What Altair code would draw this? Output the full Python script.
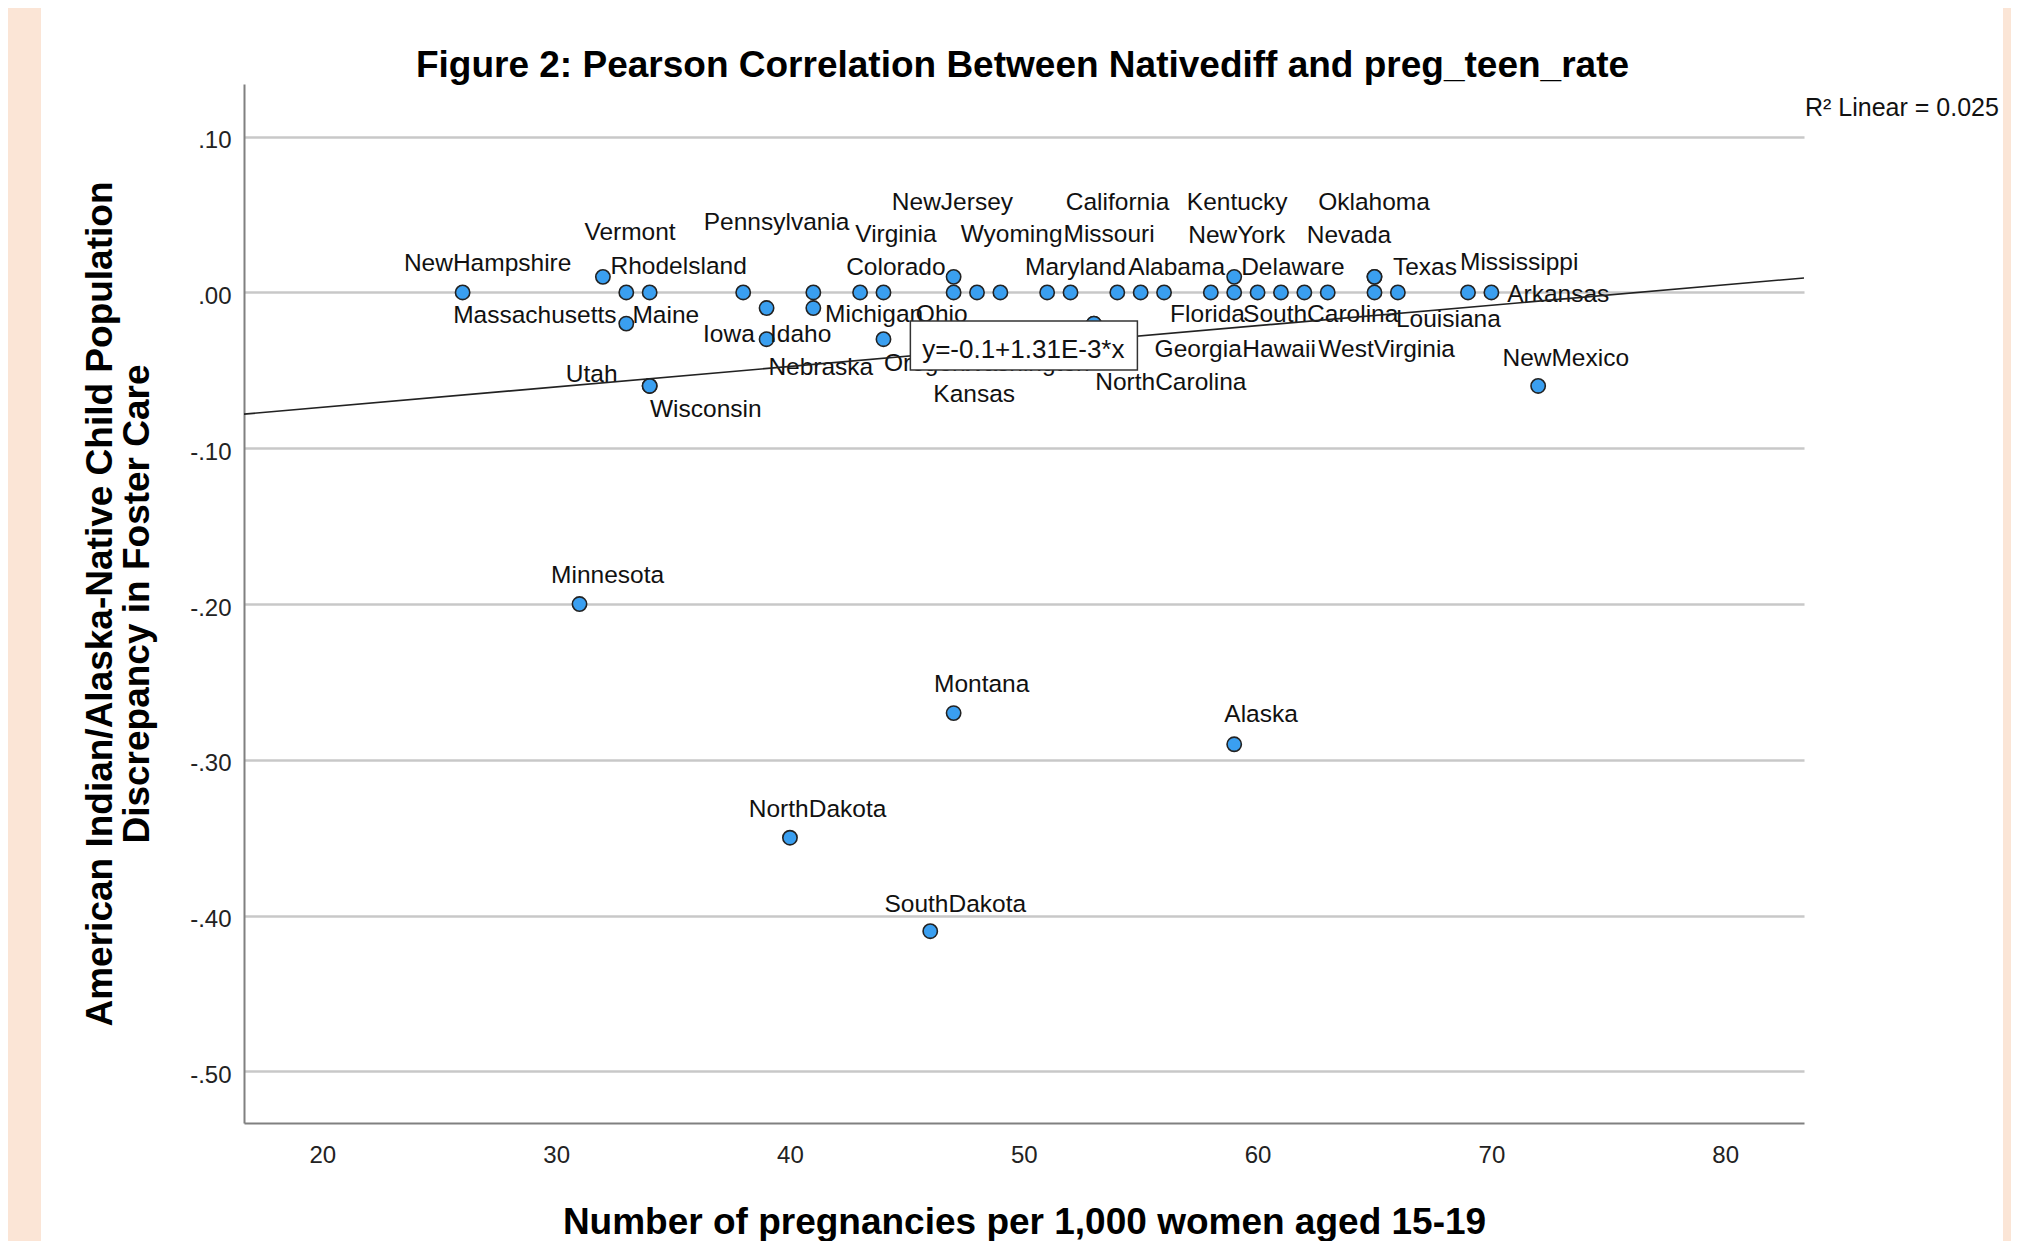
import altair as alt
import pandas as pd

# ---------------- data ----------------
states = ["NewHampshire", "Vermont", "Rhodelsland", "Massachusetts", "Maine", "Utah", "Wisconsin",
          "Pennsylvania", "Iowa", "Idaho", "Nebraska", "Virginia", "Colorado", "Michigan", "Oregon",
          "NewJersey", "Ohio", "Wyoming", "Kansas", "Maryland", "Missouri", "Washington", "NorthCarolina",
          "California", "Alabama", "Georgia", "Florida", "Kentucky", "NewYork", "Delaware",
          "SouthCarolina", "Hawaii", "WestVirginia", "Oklahoma", "Texas", "Nevada", "Louisiana",
          "Mississippi", "Arkansas", "NewMexico", "Minnesota", "Montana", "Alaska", "NorthDakota",
          "SouthDakota"]
preg_rate = [26, 32, 33, 33, 34, 34, 34,
             38, 39, 39, 41, 41, 43, 44, 44,
             47, 47, 48, 49, 51, 52, 53, 53,
             54, 55, 56, 58, 59, 59, 60,
             61, 62, 63, 65, 65, 65, 66,
             69, 70, 72, 31, 47, 59, 40,
             46]
native_diff = [0.00, 0.01, 0.00, -0.02, 0.00, -0.06, -0.06,
               0.00, -0.03, -0.01, -0.01, 0.00, 0.00, 0.00, -0.03,
               0.01, 0.00, 0.00, 0.00, 0.00, 0.00, -0.02, -0.02,
               0.00, 0.00, 0.00, 0.00, 0.01, 0.00, 0.00,
               0.00, 0.00, 0.00, 0.01, 0.01, 0.00, 0.00,
               0.00, 0.00, -0.06, -0.20, -0.27, -0.29, -0.35,
               -0.41]
# where each state's label sits (in data units)
label_x = [27.07, 33.16, 35.24, 29.09, 34.69, 31.52, 36.40,
           39.43, 37.39, 40.46, 41.32, 44.53, 44.53, 43.60, 45.77,
           46.95, 46.49, 49.48, 47.88, 52.21, 53.65, 50.07, 56.29,
           54.01, 56.54, 57.46, 57.86, 59.13, 59.11, 61.51,
           62.70, 60.92, 65.52, 64.98, 67.16, 63.91, 68.16,
           71.19, 72.86, 73.18, 32.20, 48.20, 60.15, 41.18,
           47.07]
label_y = [0.0182, 0.0383, 0.0163, -0.0154, -0.0154, -0.0528, -0.0753,
           0.0445, -0.0272, -0.0272, -0.0485, 0.0370, 0.0157, -0.0143, -0.0458,
           0.0574, -0.0143, 0.0370, -0.0661, 0.0157, 0.0370, -0.0458, -0.0582,
           0.0574, 0.0157, -0.0372, -0.0143, 0.0574, 0.0364, 0.0157,
           -0.0143, -0.0372, -0.0372, 0.0574, 0.0157, 0.0364, -0.0180,
           0.0189, -0.0019, -0.0426, -0.1823, -0.2520, -0.2712, -0.3325,
           -0.3930]

reg_x = [16.65, 83.37]
reg_y = [-0.0781, 0.0093]
equation = "y=-0.1+1.31E-3*x"
eq_box_x = [45.15, 54.86]
eq_box_y = [-0.0184, -0.0498]
eq_text_pos = [49.98, -0.0368]
r2_text = "R\u00b2 Linear = 0.025"
title_text = "Figure 2: Pearson Correlation Between Nativediff and preg_teen_rate"
x_title = "Number of pregnancies per 1,000 women aged 15-19"
y_title = ["American Indian/Alaska-Native Child Population", "Discrepancy in Foster Care"]

x_domain = [16.65, 83.37]
y_domain = [-0.5331, 0.1338]
x_ticks = [20, 30, 40, 50, 60, 70, 80]
y_ticks = [-0.5, -0.4, -0.3, -0.2, -0.1, 0.0, 0.1]

# ---------------- chart ----------------
W, H = 1560, 1039
FONT = "Liberation Sans"
PEACH = "#FBE5D6"

pts = pd.DataFrame({"state": states, "X": preg_rate, "Y": native_diff})
labs = pd.DataFrame({"state": states, "X": label_x, "Y": label_y})
reg = pd.DataFrame({"X": reg_x, "Y": reg_y})
box = pd.DataFrame({"X": [eq_box_x[0]], "X2": [eq_box_x[1]], "Y": [eq_box_y[0]], "Y2": [eq_box_y[1]]})
eqt = pd.DataFrame({"X": [eq_text_pos[0]], "Y": [eq_text_pos[1]], "t": [equation]})
one = pd.DataFrame({"k": [0]})

xs = alt.Scale(domain=x_domain, nice=False, zero=False)
ys = alt.Scale(domain=y_domain, nice=False, zero=False)

x_axis = alt.Axis(values=x_ticks, format="d", grid=False, ticks=False,
                  domainColor="#808080", domainWidth=2,
                  labelFont=FONT, labelFontSize=24, labelColor="#222222", labelPadding=20,
                  titleFont=FONT, titleFontSize=37, titleFontWeight="bold",
                  titleColor="#000000", titleX=W / 2, titleY=110, titleAlign="center",
                  titleBaseline="alphabetic")
y_axis = alt.Axis(values=y_ticks,
                  labelExpr="replace(replace(format(datum.value, '.2f'), '\u2212', '-'), '0.', '.')",
                  grid=True, gridColor="#C8C8C8", gridWidth=2.5, ticks=False,
                  domainColor="#808080", domainWidth=2,
                  labelFont=FONT, labelFontSize=24, labelColor="#222222", labelPadding=13,
                  labelOffset=4,
                  titleFont=FONT, titleFontSize=37, titleFontWeight="bold",
                  titleColor="#000000", titleLineHeight=37, titleX=-143.5, titleY=H / 2,
                  titleAngle=270, titleAlign="center", titleBaseline="middle")


def X(field="X"):
    return alt.X(f"{field}:Q", scale=xs, axis=x_axis, title=x_title)


def Y(field="Y"):
    return alt.Y(f"{field}:Q", scale=ys, axis=y_axis, title=y_title)


left_strip = alt.Chart(one).mark_rect(color=PEACH).encode(
    x=alt.value(-236), x2=alt.value(-203), y=alt.value(-80), y2=alt.value(1160))
right_strip = alt.Chart(one).mark_rect(color=PEACH).encode(
    x=alt.value(1759), x2=alt.value(1770), y=alt.value(-80), y2=alt.value(1160))

points = alt.Chart(pts).mark_circle(fill="#3A9FF0", stroke="#222222", strokeWidth=1.6,
                                    size=205, opacity=1).encode(x=X(), y=Y())

labels = alt.Chart(labs).mark_text(font=FONT, fontSize=24.5, color="#111111",
                                   align="center", baseline="middle").encode(
    x=X(), y=Y(), text="state:N")

line = alt.Chart(reg).mark_line(color="#222222", strokeWidth=1.6).encode(x=X(), y=Y())

eq_box = alt.Chart(box).mark_rect(fill="white", stroke="#333333", strokeWidth=1.5).encode(
    x=X(), x2="X2:Q", y=Y(), y2="Y2:Q")

eq_label = alt.Chart(eqt).mark_text(font=FONT, fontSize=26, color="#111111",
                                    align="center", baseline="middle").encode(
    x=X(), y=Y(), text="t:N")

r2 = alt.Chart(one).mark_text(text=r2_text, font=FONT, fontSize=25, color="#111111",
                              align="left", baseline="alphabetic").encode(
    x=alt.value(W + 1), y=alt.value(31.7))

title = alt.Chart(one).mark_text(text=title_text, font=FONT, fontSize=37, fontWeight="bold",
                                 color="#000000", align="center", baseline="alphabetic").encode(
    x=alt.value(W / 2 - 1.5), y=alt.value(-7.3))

chart = alt.layer(points, labels, line, eq_box, eq_label, r2, title, left_strip, right_strip).properties(
    width=W, height=H,
    padding={"left": 236, "top": 76, "right": 207, "bottom": 118},
    autosize=alt.AutoSizeParams(type="none"),
    background="white",
).configure_view(strokeOpacity=0)

chart.save("out.html", embed_options={"renderer": "svg", "actions": False})
